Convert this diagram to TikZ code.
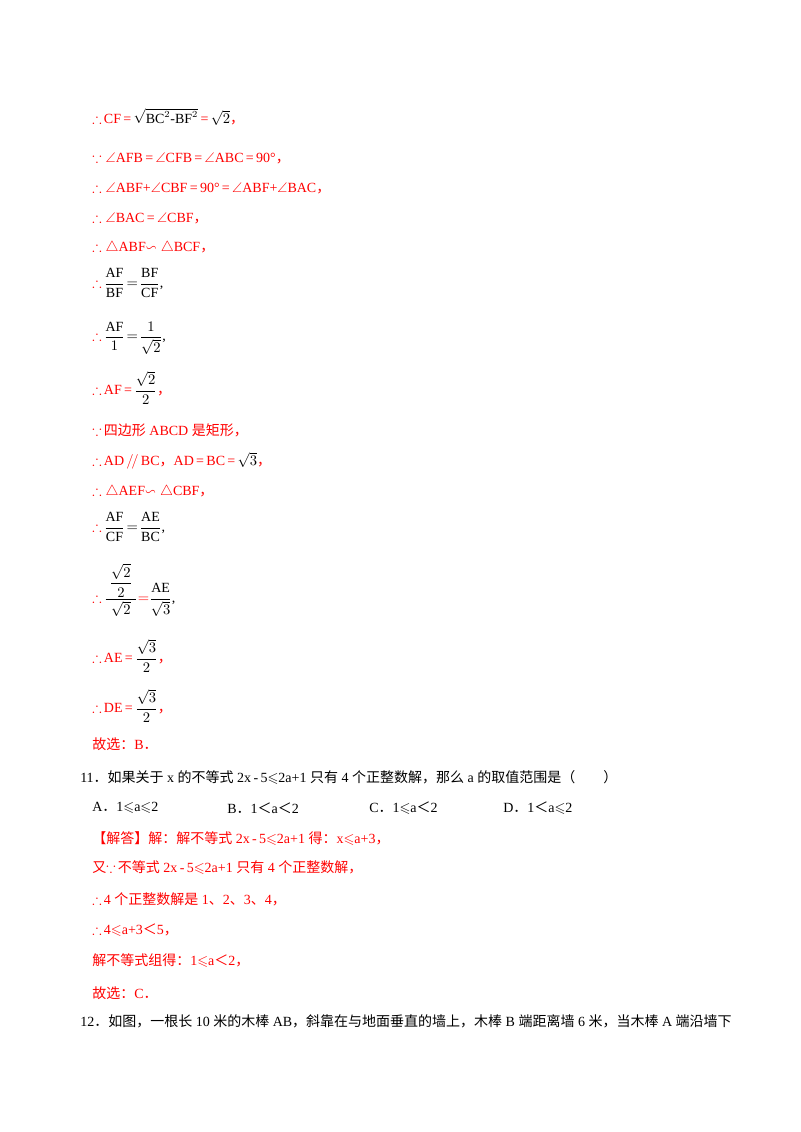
\documentclass[tikz,border=0pt]{standalone}
\usepackage{amsmath,amssymb}
\usepackage{fontspec}
\setmainfont{Liberation Serif}
\newfontfamily\cjk{Noto Sans CJK SC}
\definecolor{rd}{RGB}{255,0,0}
\newcommand{\C}[1]{{\cjk #1}}
\newcommand{\tf}{\textcolor{rd}{$\therefore$}\,}
\begin{document}
\begin{tikzpicture}[x=0.75pt,y=-0.75pt,
  t/.style={anchor=west,inner sep=0pt,font=\fontsize{10.5}{12}\selectfont,text=rd},
  k/.style={anchor=west,inner sep=0pt,font=\fontsize{10.5}{12}\selectfont,text=black}]
\useasboundingbox (0,0) rectangle (800,1132);
\fill[white] (0,0) rectangle (800,1132);
\node[t] (l1) at (92,117) {$\therefore$\,CF\,=\,\textcolor{black}{$\sqrt{\mathrm{BC}^2\text{-}\mathrm{BF}^2}$}\,=\,\textcolor{black}{$\sqrt{2}$}\C{，}};
\node[t] (l2) at (92,158) {$\because\angle$AFB\,=\,$\angle$CFB\,=\,$\angle$ABC\,=\,90°\C{，}};
\node[t] (l3) at (92,188) {$\therefore\angle$ABF+$\angle$CBF\,=\,90°\,=\,$\angle$ABF+$\angle$BAC\C{，}};
\node[t] (l4) at (92,218) {$\therefore\angle$BAC\,=\,$\angle$CBF\C{，}};
\node[t] (l5) at (92,248) {$\therefore\triangle$ABF$\backsim\triangle$BCF\C{，}};
\node[k] (l6) at (92,283) {\tf$\dfrac{\mathrm{AF}}{\mathrm{BF}}\!=\!\dfrac{\mathrm{BF}}{\mathrm{CF}}$,};
\node[k] (l7) at (92,338) {\tf$\dfrac{\mathrm{AF}}{1}\!=\!\dfrac{1}{\sqrt{2}}$,};
\node[t] (l8) at (92,388) {$\therefore$\,AF\,=\,\textcolor{black}{$\dfrac{\sqrt{2}}{2}$}\C{，}};
\node[t] (l9) at (92,430) {$\because$\,\C{四边形} ABCD \C{是矩形，}};
\node[t] (l10) at (92,461) {$\therefore$\,AD\,$/\!/$\,BC\C{，}AD\,=\,BC\,=\,\textcolor{black}{$\sqrt{3}$}\C{，}};
\node[t] (l11) at (92,492) {$\therefore\triangle$AEF$\backsim\triangle$CBF\C{，}};
\node[k] (l12) at (92,527) {\tf$\dfrac{\mathrm{AF}}{\mathrm{CF}}\!=\!\dfrac{\mathrm{AE}}{\mathrm{BC}}$,};
\node[k] (l13) at (92,590) {\tf$\dfrac{\;\dfrac{\sqrt{2}}{2}\;}{\sqrt{2}}\textcolor{rd}{=}\dfrac{\mathrm{AE}}{\sqrt{3}}$,};
\node[t] (l14) at (92,656) {$\therefore$\,AE\,=\,\textcolor{black}{$\dfrac{\sqrt{3}}{2}$}\C{，}};
\node[t] (l15) at (92,706) {$\therefore$\,DE\,=\,\textcolor{black}{$\dfrac{\sqrt{3}}{2}$}\C{，}};
\node[t] (l16) at (92,744) {\C{故选：}B\C{．}};
\node[k] (q) at (80,777) {11\C{．如果关于} x \C{的不等式} 2x\,-\,5$\leqslant$2a+1 \C{只有} 4 \C{个正整数解，那么} a \C{的取值范围是（\quad\quad）}};
\node[k] (oA) at (92,808) {A\C{．}1$\leqslant$a$\leqslant$2};
\node[k] (oB) at (227,808) {B\C{．}1\C{＜}a\C{＜}2};
\node[k] (oC) at (369,808) {C\C{．}1$\leqslant$a\C{＜}2};
\node[k] (oD) at (503,808) {D\C{．}1\C{＜}a$\leqslant$2};
\node[t] (s1) at (92,839) {\C{【解答】解：解不等式} 2x\,-\,5$\leqslant$2a+1 \C{得：}x$\leqslant$a+3\C{，}};
\node[t] (s2) at (92,868) {\C{又}$\because$\,\C{不等式} 2x\,-\,5$\leqslant$2a+1 \C{只有} 4 \C{个正整数解，}};
\node[t] (s3) at (92,899) {$\therefore$\,4 \C{个正整数解是} 1\C{、}2\C{、}3\C{、}4\C{，}};
\node[t] (s4) at (92,930) {$\therefore$\,4$\leqslant$a+3\C{＜}5\C{，}};
\node[t] (s5) at (92,961) {\C{解不等式组得：}1$\leqslant$a\C{＜}2\C{，}};
\node[t] (s6) at (92,993) {\C{故选：}C\C{．}};
\node[k] (q12) at (80,1021) {12\C{．如图，一根长} 10 \C{米的木棒} AB\C{，斜靠在与地面垂直的墙上，木棒} B \C{端距离墙} 6 \C{米，当木棒} A \C{端沿墙下}};
\end{tikzpicture}
\end{document}
